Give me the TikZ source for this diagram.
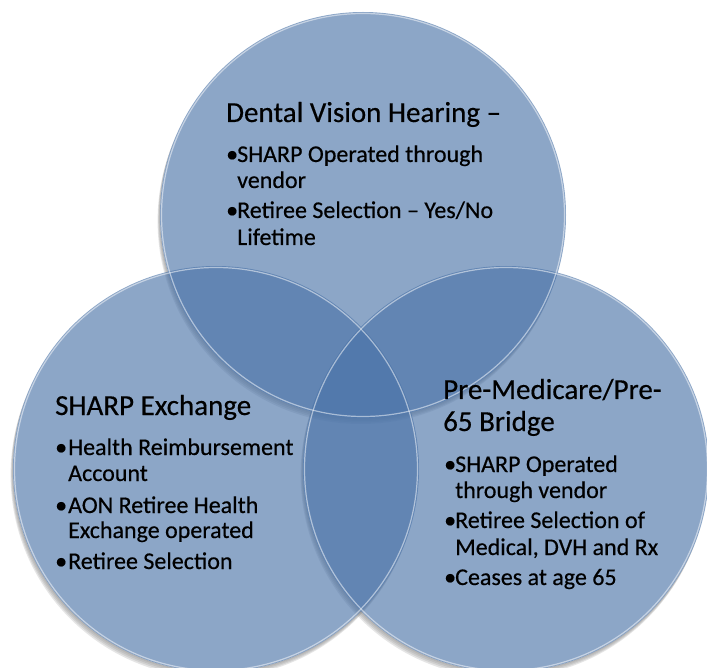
\documentclass[tikz,border=0pt]{standalone}
\usepackage{fontspec}
\setmainfont{Carlito}[FakeBold=1.5]
\definecolor{vennblue}{RGB}{74,115,168}
\definecolor{shadowgray}{RGB}{140,140,140}
\newcommand\vhead{\fontsize{29}{32}\selectfont\addfontfeature{FakeBold=0.4}}
\newcommand\vitem{\fontsize{24}{26}\selectfont\addfontfeature{FakeBold=0.4}}
\tikzset{
  venn/.style={fill=vennblue, fill opacity=0.635},
  rim/.style={draw=white, draw opacity=0.5, line width=1.2pt},
  shadowfill/.style={fill=shadowgray, fill opacity=0.22},
  headtxt/.style={anchor=base west, inner sep=0pt, font=\vhead, text=black},
  itemtxt/.style={anchor=base west, inner sep=0pt, font=\vitem, text=black},
}
\begin{document}
\begin{tikzpicture}[x=1pt,y=-1pt]
\useasboundingbox (0,0) rectangle (707,668);
\fill[white] (0,0) rectangle (707,668);
\coordinate (ct) at (363,215);
\coordinate (cl) at (216,469);
\coordinate (cr) at (506,469);
% soft shadows outside each circle
\foreach \cc in {ct,cl,cr}{
  \begin{scope}[even odd rule]
    \clip (-10,-10) rectangle (720,680) (\cc) circle (203pt);
    \foreach \d in {1.5,3,4.5,6}{
      \fill[shadowfill] ([shift={(-0.4*\d,\d)}]\cc) circle (203pt);
    }
  \end{scope}
}
% circles
\fill[venn] (ct) circle (203pt);
\fill[venn] (cl) circle (203pt);
\fill[venn] (cr) circle (203pt);
% rims
\draw[rim] (ct) circle (201.5pt);
\draw[rim] (cl) circle (201.5pt);
\draw[rim] (cr) circle (201.5pt);
% top circle text
\node[headtxt] (t0) at (226,122) {Dental Vision Hearing –};
\node[itemtxt] (t1b) at (226,162) {•};
\node[itemtxt] (t1) at (237,162) {SHARP Operated through};
\node[itemtxt] (t1c) at (237,188) {vendor};
\node[itemtxt] (t2b) at (226,218) {•};
\node[itemtxt] (t2) at (237,218) {Retiree Selection – Yes/No};
\node[itemtxt] (t2c) at (237,245) {Lifetime};
% left circle text
\node[headtxt] (l0) at (55,415) {SHARP Exchange};
\node[itemtxt] (l1b) at (55,455) {•};
\node[itemtxt] (l1) at (68,455) {Health Reimbursement};
\node[itemtxt] (l1c) at (68,481) {Account};
\node[itemtxt] (l2b) at (55,513) {•};
\node[itemtxt] (l2) at (68,513) {AON Retiree Health};
\node[itemtxt] (l2c) at (68,538) {Exchange operated};
\node[itemtxt] (l3b) at (55,569) {•};
\node[itemtxt] (l3) at (68,569) {Retiree Selection};
% right circle text
\node[headtxt] (r0) at (443,399) {Pre-Medicare/Pre-};
\node[headtxt] (r0c) at (443,431) {65 Bridge};
\node[itemtxt] (r1b) at (444,472) {•};
\node[itemtxt] (r1) at (455,472) {SHARP Operated};
\node[itemtxt] (r1c) at (455,498) {through vendor};
\node[itemtxt] (r2b) at (444,528) {•};
\node[itemtxt] (r2) at (455,528) {Retiree Selection of};
\node[itemtxt] (r2c) at (455,555) {Medical, DVH and Rx};
\node[itemtxt] (r3b) at (444,585) {•};
\node[itemtxt] (r3) at (455,585) {Ceases at age 65};
\end{tikzpicture}
\end{document}
